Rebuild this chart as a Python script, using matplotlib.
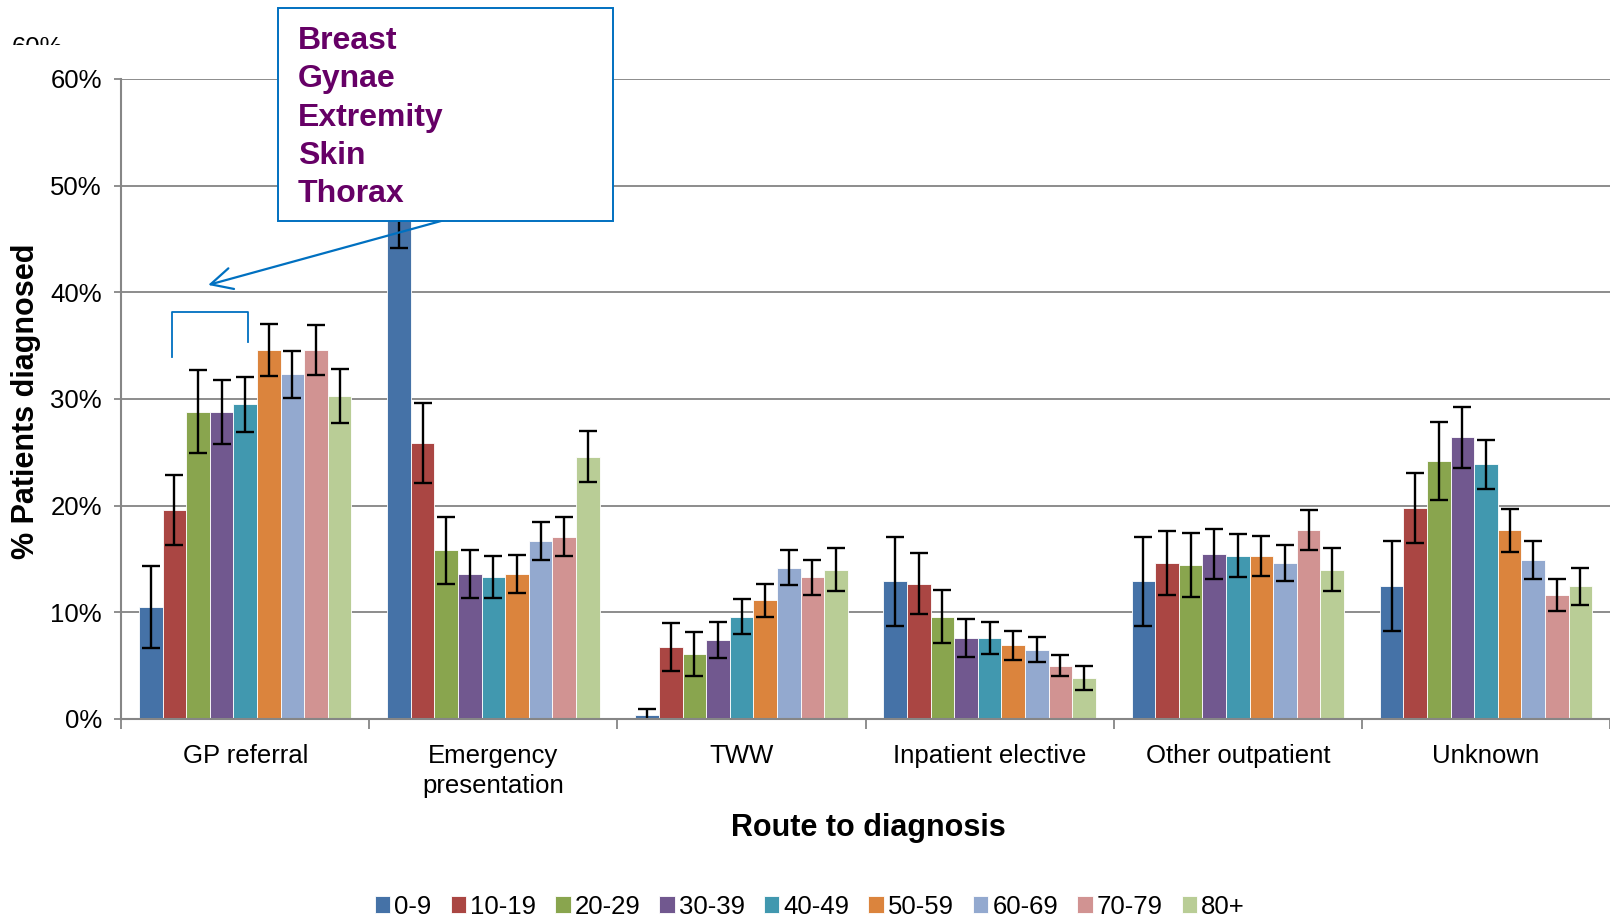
import numpy as np
import matplotlib
matplotlib.use('Agg')
import matplotlib.pyplot as plt
from matplotlib.patches import Rectangle, FancyArrowPatch
from matplotlib.lines import Line2D
from matplotlib.transforms import Bbox, TransformedBbox

plt.rcParams['font.family'] = ['Liberation Sans', 'DejaVu Sans']

routes = ['GP referral', 'Emergency\npresentation', 'TWW', 'Inpatient elective',
          'Other outpatient', 'Unknown']
ages = ['0-9', '10-19', '20-29', '30-39', '40-49', '50-59', '60-69', '70-79', '80+']
colors = ['#4572A7', '#AA4643', '#89A54E', '#71588F', '#4198AF',
          '#DB843D', '#93A9CF', '#D19392', '#B9CD96']

# % patients diagnosed per route, one value per age group
gp_referral = [10.5, 19.6, 28.8, 28.8, 29.5, 34.6, 32.3, 34.6, 30.3]
emergency = [48.0, 25.9, 15.8, 13.6, 13.3, 13.6, 16.7, 17.1, 24.6]
tww = [0.4, 6.75, 6.1, 7.4, 9.6, 11.15, 14.2, 13.3, 14.0]
inpatient = [12.9, 12.7, 9.6, 7.6, 7.6, 6.9, 6.5, 5.0, 3.85]
other_out = [12.9, 14.65, 14.4, 15.5, 15.3, 15.3, 14.65, 17.7, 14.0]
unknown = [12.45, 19.8, 24.2, 26.4, 23.9, 17.7, 14.9, 11.6, 12.45]

# error bar half widths
gp_referral_err = [3.8, 3.3, 3.9, 3.0, 2.6, 2.4, 2.2, 2.35, 2.55]
emergency_err = [3.8, 3.75, 3.1, 2.25, 1.95, 1.8, 1.75, 1.85, 2.4]
tww_err = [0.55, 2.25, 2.1, 1.65, 1.65, 1.55, 1.65, 1.65, 2.0]
inpatient_err = [4.2, 2.9, 2.5, 1.75, 1.5, 1.35, 1.2, 1.0, 1.1]
other_out_err = [4.2, 3.0, 3.0, 2.35, 2.0, 1.9, 1.7, 1.9, 2.0]
unknown_err = [4.2, 3.3, 3.65, 2.85, 2.3, 2.0, 1.75, 1.5, 1.75]

sites = ['Breast', 'Gynae', 'Extremity', 'Skin', 'Thorax']

values = np.array([gp_referral, emergency, tww, inpatient, other_out, unknown])
errors = np.array([gp_referral_err, emergency_err, tww_err, inpatient_err,
                   other_out_err, unknown_err])

W, H = 1610, 917
fx = lambda px: px / W
fy = lambda py: 1 - py / H

fig = plt.figure(figsize=(W / 100, H / 100), dpi=100)
ax = fig.add_axes([fx(121.2), fy(719), 1 - fx(121.2), (719 - 79) / H])

GRID = '#8C8C8C'
FS = 18.5
x = np.arange(len(routes))
width = 0.0951
bars = []
for i, age in enumerate(ages):
    b = ax.bar(x + (i - 4) * width, values[:, i], width, yerr=errors[:, i],
               color=colors[i], edgecolor='white', linewidth=0.6, label=age,
               error_kw=dict(ecolor='black', elinewidth=1.7, capsize=6.5, capthick=1.7),
               zorder=2)
    bars.append(b)

ax.set_xlim(-0.5, 5.5)
ax.set_ylim(0, 60)
ax.yaxis.grid(True, color=GRID, linewidth=1.4)
ax.set_axisbelow(True)
for s in ['top', 'right']:
    ax.spines[s].set_visible(False)
for s in ['left', 'bottom']:
    ax.spines[s].set_color('#868686')
    ax.spines[s].set_linewidth(1.5)

ax.set_yticks(range(0, 61, 10))
ax.set_yticklabels([f'{v}%' for v in range(0, 61, 10)])
ax.tick_params(axis='y', length=5, width=1.3, color='#868686', pad=9, labelsize=FS)

ax.set_xticks(np.arange(-0.5, 6, 1))
ax.set_xticklabels([])
ax.set_xticks(x, minor=True)
ax.set_xticklabels(routes, minor=True, linespacing=1.3)
ax.tick_params(axis='x', which='major', length=7, width=1.3, color='#868686')
ax.tick_params(axis='x', which='minor', length=0, pad=18, labelsize=FS)

fig.text(fx(25.7), 0.562, '% Patients diagnosed', rotation=90, ha='center', va='center',
         fontsize=22, fontweight='bold')
fig.text(fx(868), fy(828), 'Route to diagnosis', ha='center', va='center',
         fontsize=22, fontweight='bold')

fig.legend(bars, ages, ncol=9, loc='center', bbox_to_anchor=(0.503, fy(906.5)),
           frameon=False, handlelength=0.6, handleheight=0.6, handletextpad=0.15,
           columnspacing=0.75, fontsize=FS, borderaxespad=0, borderpad=0)

# ghost tick label, half hidden at the top
ghost = fig.text(fx(63), fy(55), '60%', ha='right', va='baseline', fontsize=FS)
ghost.set_clip_box(TransformedBbox(Bbox.from_extents(0, fy(45), fx(130), 1), fig.transFigure))
ghost.set_clip_on(True)

# call-out box
BLUE = '#0070C0'
arrow = FancyArrowPatch((fx(452), fy(218)), (fx(205.5), fy(285.7)),
                        transform=fig.transFigure, arrowstyle='->,head_length=0.7,head_width=0.35',
                        mutation_scale=22, color=BLUE, linewidth=1.6, zorder=4)
fig.add_artist(arrow)
box = Rectangle((fx(278), fy(220.8)), fx(613) - fx(278), (220.8 - 8.2) / H,
                transform=fig.transFigure, facecolor='white', edgecolor=BLUE,
                linewidth=1.4, zorder=5)
fig.add_artist(box)
for k, site in enumerate(sites):
    fig.text(fx(298), fy(41 + k * 38.3), site, ha='left', va='center', fontsize=23,
             fontweight='bold', color='#660066', zorder=6)

bracket = Line2D([fx(172.3), fx(172.3), fx(248.3), fx(248.3)],
                 [fy(356.7), fy(311.7), fy(311.7), fy(341.7)],
                 transform=fig.transFigure, color=BLUE, linewidth=1.3, zorder=4)
fig.add_artist(bracket)

fig.savefig('out.png', dpi=100)
